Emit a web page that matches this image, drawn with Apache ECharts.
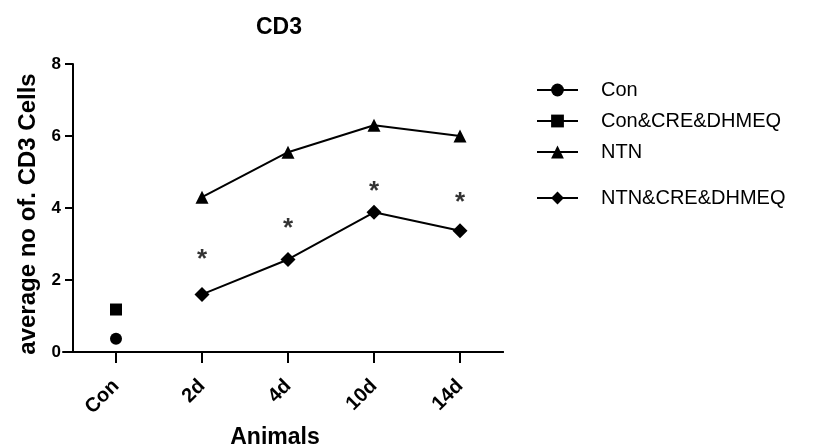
<!DOCTYPE html>
<html>
<head>
<meta charset="utf-8">
<script src="https://cdn.jsdelivr.net/npm/echarts@6/dist/echarts.min.js"></script>
<style>
  html, body { margin: 0; padding: 0; background: #fff; }
  #chart { width: 826px; height: 448px; }
</style>
</head>
<body>
<div id="chart"></div>
<script>
// Time points on the x axis
const categories = ['Con', '2d', '4d', '10d', '14d'];

// Mean CD3+ cell counts per group
const conValues = [0.37, null, null, null, null];
const conCreValues = [1.18, null, null, null, null];
const ntnValues = [null, 4.3, 5.55, 6.3, 6.0];
const ntnCreValues = [null, 1.6, 2.57, 3.88, 3.37];

// Heights at which the significance stars are placed
const starHeights = [null, 2.55, 3.41, 4.44, 4.13];

// Y axis range
const yMin = 0, yMax = 8, yStep = 2;

const FONT = '"Liberation Sans", Arial, Helvetica, sans-serif';
const INK = '#000';

function lineSeries(name, data, symbol, size) {
  return {
    name: name,
    type: 'line',
    data: data,
    symbol: symbol,
    symbolSize: size,
    showAllSymbol: true,
    connectNulls: false,
    color: INK,
    lineStyle: { color: INK, width: 2 },
    itemStyle: { color: INK },
    z: 3
  };
}

function legendAt(name, top) {
  return {
    data: [name],
    left: 536,
    top: top,
    padding: 0,
    itemWidth: 41,
    itemHeight: 16,
    selectedMode: false,
    textStyle: { fontFamily: FONT, fontSize: 20, color: INK, padding: [0, 0, 0, 18] }
  };
}

const chart = echarts.init(document.getElementById('chart'), null, { renderer: 'canvas' });

chart.setOption({
  animation: false,
  backgroundColor: '#fff',
  title: {
    text: 'CD3',
    left: 274,
    top: 11,
    textAlign: 'center',
    textStyle: { fontFamily: FONT, fontWeight: 'bold', fontSize: 23, color: INK }
  },
  legend: [
    legendAt('Con', 80),
    legendAt('Con&CRE&DHMEQ', 111),
    legendAt('NTN', 142),
    legendAt('NTN&CRE&DHMEQ', 188)
  ],
  grid: [
    { left: 73, right: 323, top: 64, bottom: 96, outerBoundsMode: 'none', containLabel: false },
    // slightly wider grid that only carries the baseline stub left of the y axis
    { left: 63, right: 323, top: 64, bottom: 96, outerBoundsMode: 'none', containLabel: false }
  ],
  xAxis: [
    {
      type: 'category',
      gridIndex: 0,
      data: categories,
      boundaryGap: true,
      axisLine: { show: true, lineStyle: { color: INK, width: 2 } },
      axisTick: { show: true, alignWithLabel: true, length: 11, lineStyle: { color: INK, width: 2 } },
      axisLabel: {
        rotate: 45,
        margin: 31,
        fontFamily: FONT,
        fontWeight: 'bold',
        fontSize: 20,
        color: INK
      },
      name: 'Animals',
      nameLocation: 'middle',
      nameGap: 74,
      nameTextStyle: {
        fontFamily: FONT, fontWeight: 'bold', fontSize: 23, color: INK,
        padding: [0, 26, 0, 0]
      },
      splitLine: { show: false }
    },
    {
      type: 'category',
      gridIndex: 1,
      data: categories,
      axisLine: { show: true, lineStyle: { color: INK, width: 2 } },
      axisTick: { show: false },
      axisLabel: { show: false },
      splitLine: { show: false }
    }
  ],
  yAxis: [
    {
      type: 'value',
      gridIndex: 0,
      min: yMin,
      max: yMax,
      interval: yStep,
      axisLine: { show: true, lineStyle: { color: INK, width: 2 } },
      axisTick: { show: true, length: 8, lineStyle: { color: INK, width: 2 } },
      axisLabel: {
        margin: 12,
        fontFamily: FONT,
        fontWeight: 'bold',
        fontSize: 17,
        color: INK
      },
      splitLine: { show: false },
      name: 'average no of. CD3 Cells',
      nameLocation: 'middle',
      nameGap: 32,
      nameTextStyle: {
        fontFamily: FONT, fontWeight: 'bold', fontSize: 24, color: INK,
        padding: [0, 12, 0, 0]
      }
    },
    {
      type: 'value',
      gridIndex: 1,
      min: yMin,
      max: yMax,
      show: false
    }
  ],
  series: [
    lineSeries('Con', conValues, 'circle', 12),
    lineSeries('Con&CRE&DHMEQ', conCreValues, 'rect', 12),
    lineSeries('NTN', ntnValues, 'triangle', 13),
    lineSeries('NTN&CRE&DHMEQ', ntnCreValues, 'diamond', 15),
    {
      name: 'significance',
      type: 'scatter',
      data: starHeights,
      symbol: 'circle',
      symbolSize: 1,
      itemStyle: { color: 'rgba(0,0,0,0)' },
      silent: true,
      label: {
        show: true,
        position: 'inside',
        formatter: '*',
        fontFamily: FONT,
        fontWeight: 'bold',
        fontSize: 26,
        color: INK
      },
      z: 4
    }
  ]
});
</script>
</body>
</html>
